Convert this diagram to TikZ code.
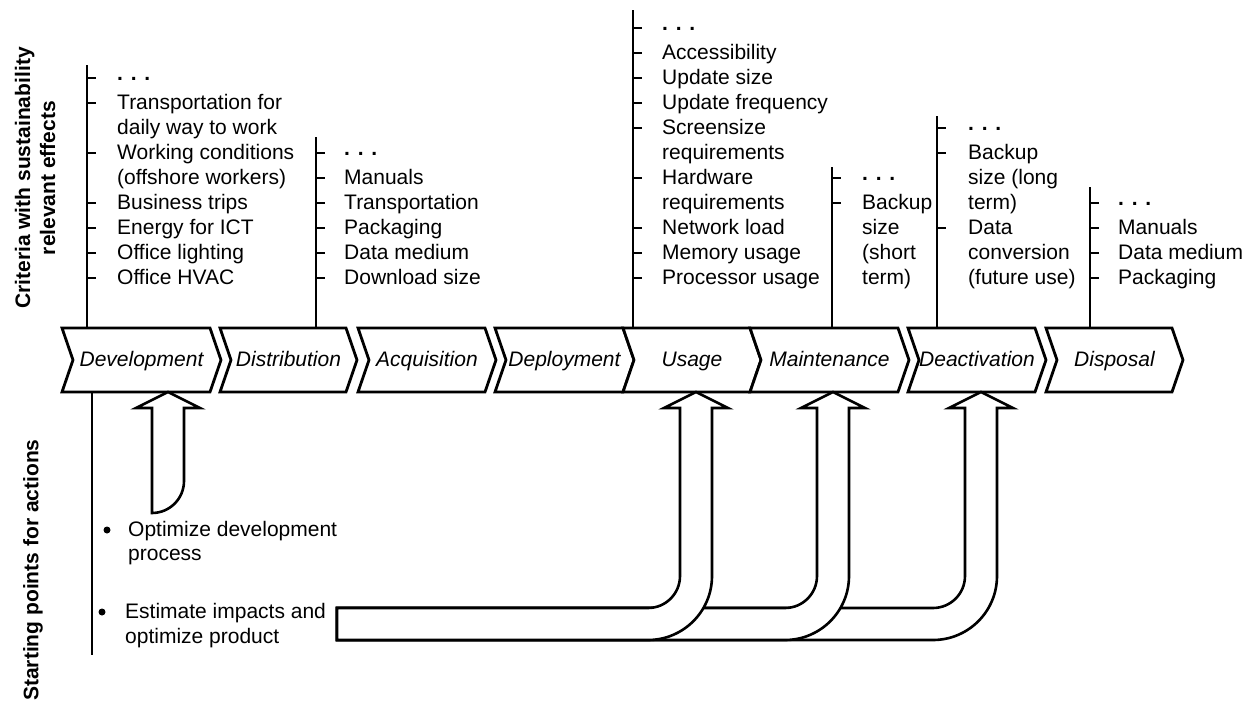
\documentclass[tikz,border=0pt]{standalone}
\usepackage{fontspec}
\setmainfont{Liberation Sans}
\tikzset{
  item/.style={font=\fontsize{21}{25}\selectfont, inner sep=0pt, anchor=base west},
  dotsrow/.style={font=\fontsize{21}{25}\selectfont\bfseries, inner sep=0pt, anchor=base west},
  bulletdot/.style={circle, fill=black, inner sep=0pt, minimum size=7pt},
  sidelabel/.style={font=\fontsize{21}{25}\selectfont\bfseries, inner sep=0pt, rotate=90, align=center},
  chevline/.style={line width=2.8pt, fill=white, line join=miter},
  chevtext/.style={font=\fontsize{21}{25}\selectfont\itshape, inner sep=0pt, anchor=base},
  stem/.style={line width=2.8pt},
  tickline/.style={line width=1.6pt},
  blockarrow/.style={line width=2.6pt, fill=white, line join=miter},
}
% chevron: name, left x, point x, label
\newcommand\chevronbox[4]{%
  \draw[chevline] (#2,328) -- ({#3-11},328) -- (#3,360) -- ({#3-11},392)
     -- (#2,392) -- ({#2+11},360) -- cycle;
  \node[chevtext] (#1) at ({(#2+#3)/2},366) {#4};}
% criteria list: name, line x, text x, top y, dots row, entries row/text/tick
\newcommand\critlist[6]{%
  \coordinate (#1-top) at (#2,#4);
  \coordinate (#1-foot) at (#2,328);
  \draw[stem] (#1-top) -- (#1-foot);
  \node[dotsrow] (#1-dots) at (#3,{280-25*#5}) {. . .};
  \draw[tickline] (#2,{278-25*#5}) -- ({#2+9},{278-25*#5});
  \foreach \r/\t/\k in {#6} {
    \node[item] (#1-\r) at (#3,{284-25*\r}) {\t};
    \ifnum\k=1 \draw[tickline] (#2,{278-25*\r}) -- ({#2+9},{278-25*\r}); \fi
  }}
% bent block arrow from the bottom band up to a chevron; #1 = shaft centre x
\newcommand\bentarrow[1]{%
  \draw[blockarrow] (337,608) -- ({#1-48},608)
     .. controls ({#1-30.33},608) and ({#1-16},593.67) .. ({#1-16},576)
     -- ({#1-16},408) -- ({#1-32},408) -- (#1,392) -- ({#1+32},408) -- ({#1+16},408)
     -- ({#1+16},576) .. controls ({#1+16},611.35) and ({#1-12.65},640) .. ({#1-48},640)
     -- (337,640) -- cycle;}
\begin{document}
\begin{tikzpicture}[x=1pt,y=-1pt]
\useasboundingbox[fill=white] (0,0) rectangle (1251,702);

% side labels
\node[sidelabel] (crit) at (35,178) {Criteria with sustainability\\relevant effects};
\node[sidelabel] (start) at (33,570) {Starting points for actions};

% criteria lists
\critlist{devl}{87}{117}{65}{8}{7/Transportation for/1, 6/daily way to work/0,
  5/Working conditions/1, 4/(offshore workers)/0, 3/Business trips/1,
  2/Energy for ICT/1, 1/Office lighting/1, 0/Office HVAC/1}
\critlist{distl}{316}{344}{137}{5}{4/Manuals/1, 3/Transportation/1,
  2/Packaging/1, 1/Data medium/1, 0/Download size/1}
\critlist{usel}{633}{662}{10}{10}{9/Accessibility/1, 8/Update size/1,
  7/Update frequency/1, 6/Screensize/1, 5/requirements/0, 4/Hardware/1,
  3/requirements/0, 2/Network load/1, 1/Memory usage/1, 0/Processor usage/1}
\critlist{mail}{832}{862}{167}{4}{3/Backup/1, 2/size/0, 1/(short/0, 0/term)/0}
\critlist{deal}{937}{968}{116}{6}{5/Backup/1, 4/size (long/0, 3/term)/0,
  2/Data/1, 1/conversion/0, 0/(future use)/0}
\critlist{dspl}{1090}{1118}{187}{3}{2/Manuals/1, 1/Data medium/1, 0/Packaging/1}

% process chevrons
\chevronbox{dev}{62}{221}{Development}
\chevronbox{dis}{220}{357}{Distribution}
\chevronbox{acq}{358}{496}{Acquisition}
\chevronbox{dep}{495}{634}{Deployment}
\chevronbox{use}{623}{761}{Usage}
\chevronbox{mai}{750}{909}{Maintenance}
\chevronbox{dea}{908}{1046}{Deactivation}
\chevronbox{dsp}{1046}{1183}{Disposal}

% starting points axis
\coordinate (sp-top) at (92,392);
\coordinate (sp-foot) at (92,655);
\draw[stem, line width=2.4pt] (sp-top) -- (sp-foot);

% development arrow
\draw[blockarrow] (152,513) -- (152,408) -- (136,408) -- (168,392) -- (200,408)
  -- (184,408) -- (184,481) .. controls (184,498.67) and (169.67,513) .. (152,513) -- cycle;

% product arrows
\bentarrow{981}
\bentarrow{833}
\bentarrow{696}

% bullet items
\node[bulletdot] (b1dot) at (107,530) {};
\node[item] (b1a) at (128,536) {Optimize development};
\node[item] (b1b) at (128,560) {process};
\node[bulletdot] (b2dot) at (102,612) {};
\node[item] (b2a) at (125,618) {Estimate impacts and};
\node[item] (b2b) at (125,643) {optimize product};
\end{tikzpicture}
\end{document}
